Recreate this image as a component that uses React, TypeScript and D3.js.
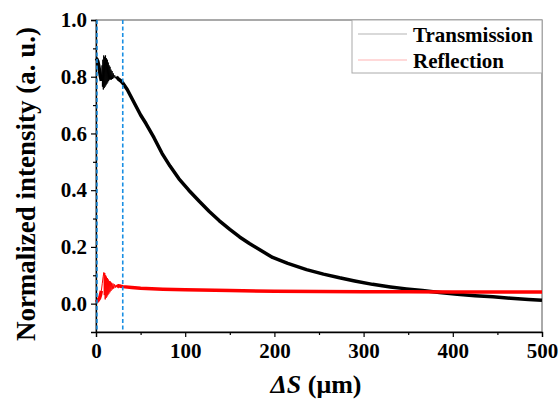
import React, { useRef, useEffect } from 'react'
import * as d3 from 'd3'

// Transmission (black)
const transX = [0, 1, 2, 3, 4, 5, 6,
  6.8, 7.2, 7.7, 8.2, 8.7, 9.2, 9.7, 10.2, 10.7, 11.2, 11.7, 12.2, 12.7, 13.2, 13.7, 14.2, 14.7, 15.2, 15.7, 16.2,
  16.8, 17.4, 18, 18.6, 19.3, 20, 21, 22, 23, 25, 28, 30,
  35, 40, 45, 50, 56, 65, 74, 83, 93, 104, 116, 127, 138, 150, 161, 172, 185, 198, 215, 236, 255, 273, 290,
  310, 330, 348, 366, 385, 405, 425, 445, 465, 485, 500]
const transY = [0.865, 0.862, 0.855, 0.84, 0.82, 0.8, 0.785,
  0.84, 0.765, 0.86, 0.755, 0.875, 0.76, 0.87, 0.765, 0.875, 0.77, 0.865, 0.775, 0.86, 0.78, 0.85, 0.785, 0.84, 0.79, 0.835, 0.79,
  0.825, 0.79, 0.82, 0.792, 0.812, 0.795, 0.805, 0.795, 0.8, 0.792, 0.785, 0.778,
  0.755, 0.725, 0.695, 0.665, 0.635, 0.585, 0.53, 0.485, 0.44, 0.4, 0.36, 0.325, 0.293, 0.262, 0.235, 0.212, 0.187, 0.163, 0.142, 0.12, 0.104, 0.091, 0.08,
  0.068, 0.059, 0.052, 0.046, 0.039, 0.033, 0.028, 0.024, 0.019, 0.015, 0.012]

// Reflection (red)
const reflX = [0, 2, 4, 5, 6, 7, 8, 8.8,
  9.3, 9.8, 10.3, 10.8, 11.3, 11.8, 12.3, 12.8, 13.3, 13.8, 14.4, 15, 15.6, 16.2, 16.8, 17.5, 18.2, 19, 19.8, 20.6, 21.5, 22.5, 23.5,
  25, 28, 30, 40, 50, 75, 100, 150, 200, 250, 300, 350, 400, 450, 500]
const reflY = [0.005, 0.01, 0.02, 0.03, 0.045, 0.07, 0.095, 0.11,
  0.03, 0.108, 0.015, 0.1, 0.02, 0.095, 0.025, 0.09, 0.03, 0.085, 0.035, 0.08, 0.04, 0.078, 0.045, 0.074, 0.05, 0.071, 0.053, 0.068, 0.056, 0.066, 0.058,
  0.063, 0.061, 0.06, 0.057, 0.054, 0.051, 0.049, 0.046, 0.044, 0.043, 0.042, 0.042, 0.041, 0.041, 0.041]

const xTicks = [0, 100, 200, 300, 400, 500]
const xMinor = [50, 150, 250, 350, 450]
const yTicks = [0, 0.2, 0.4, 0.6, 0.8, 1.0]
const yMinor = [0.1, 0.3, 0.5, 0.7, 0.9]
const markers = [0, 30]
const seriesNames = ['Transmission', 'Reflection']
const seriesColors = ['#000000', '#ff0000']

const W = 558
const H = 405
const FONT = '"Liberation Serif", "Times New Roman", serif'

export default function App() {
  const svgRef = useRef<SVGSVGElement>(null)

  useEffect(() => {
    if (!svgRef.current) return
    const svg = d3.select(svgRef.current)
    svg.selectAll('*').remove()

    const left = 96, right = 542, top = 20, bottom = 332
    const x = d3.scaleLinear().domain([0, 500]).range([left, right])
    const y = d3.scaleLinear().domain([-0.1, 1.0]).range([bottom, top])

    svg.append('rect').attr('width', W).attr('height', H).attr('fill', '#fff')

    // frame
    svg.append('rect')
      .attr('x', left).attr('y', top)
      .attr('width', right - left).attr('height', bottom - top)
      .attr('fill', 'none').attr('stroke', '#555').attr('stroke-width', 1)

    // oscillating stretch is drawn thin, the rest thick
    const oscGap = (d: [number, number]) => !(d[0] > 6.2 && d[0] < 23)

    const series = [d3.zip(transX, transY), d3.zip(reflX, reflY)] as [number, number][][]
    series.forEach((data, i) => {
      const thin = d3.line<[number, number]>().x(d => x(d[0])).y(d => y(d[1]))
      svg.append('path').attr('d', thin(data)).attr('fill', 'none')
        .attr('stroke', seriesColors[i]).attr('stroke-width', 1).attr('stroke-linejoin', 'round')
      const thick = d3.line<[number, number]>().defined(oscGap).x(d => x(d[0])).y(d => y(d[1]))
      svg.append('path').attr('d', thick(data)).attr('fill', 'none')
        .attr('stroke', seriesColors[i]).attr('stroke-width', 3.5).attr('stroke-linejoin', 'round')
    })

    // axes
    const yAxis = svg.append('g').attr('transform', `translate(${left},0)`)
      .call(d3.axisLeft(y).tickValues(yTicks).tickSize(5).tickPadding(4).tickFormat(d3.format('.1f')))
    yAxis.append('g').call(d3.axisLeft(y).tickValues(yMinor).tickSize(3).tickFormat(() => ''))
    const xAxis = svg.append('g').attr('transform', `translate(0,${bottom})`)
      .call(d3.axisBottom(x).tickValues(xTicks).tickSize(5).tickPadding(6).tickFormat(d3.format('d')))
    xAxis.append('g').call(d3.axisBottom(x).tickValues(xMinor).tickSize(3).tickFormat(() => ''))
    ;[yAxis, xAxis].forEach(a => {
      a.selectAll('path.domain').attr('stroke', '#000').attr('stroke-width', 1.3)
      a.selectAll('line').attr('stroke', '#000').attr('stroke-width', 1.2)
      a.selectAll('text').attr('font-family', FONT).attr('font-size', 21)
        .attr('font-weight', 'bold').attr('fill', '#000')
    })
    yAxis.selectAll('g g path.domain').remove()
    xAxis.selectAll('g g path.domain').remove()

    // dashed markers, on top of the axis
    markers.forEach(m => {
      const mx = x(m) + (m === 0 ? 1 : 0)
      svg.append('line')
        .attr('x1', mx).attr('x2', mx)
        .attr('y1', top).attr('y2', bottom)
        .attr('stroke', '#1a8fe3').attr('stroke-width', 1.6).attr('stroke-dasharray', '4,2.5')
    })

    // legend
    const lg = svg.append('g')
    lg.append('rect').attr('x', 352).attr('y', top).attr('width', right - 352).attr('height', 53)
      .attr('fill', '#fff').attr('stroke', '#aaa').attr('stroke-width', 1)
    seriesNames.forEach((name, i) => {
      const ly = 34 + i * 26
      lg.append('line').attr('x1', 358).attr('x2', 407).attr('y1', ly).attr('y2', ly)
        .attr('stroke', seriesColors[i]).attr('stroke-width', 0.6).attr('stroke-opacity', 0.5)
      lg.append('text').attr('x', 413).attr('y', ly + 7.5)
        .attr('font-family', FONT).attr('font-size', 21).attr('font-weight', 'bold')
        .text(name)
    })

    // axis titles
    svg.append('text')
      .attr('transform', `translate(35,${(top + bottom) / 2 + 8}) rotate(-90)`)
      .attr('text-anchor', 'middle')
      .attr('font-family', FONT).attr('font-size', 27).attr('font-weight', 'bold')
      .text('Normalized intensity (a. u.)')

    const xt = svg.append('text')
      .attr('x', 316).attr('y', 393)
      .attr('text-anchor', 'middle')
      .attr('font-family', FONT).attr('font-size', 26).attr('font-weight', 'bold')
    xt.append('tspan').attr('font-style', 'italic').text('ΔS')
    xt.append('tspan').text(' (μm)')
  }, [])

  return (
    <svg ref={svgRef} width={W} height={H}
      style={{ position: 'absolute', left: 0, top: 0 }} />
  )
}
